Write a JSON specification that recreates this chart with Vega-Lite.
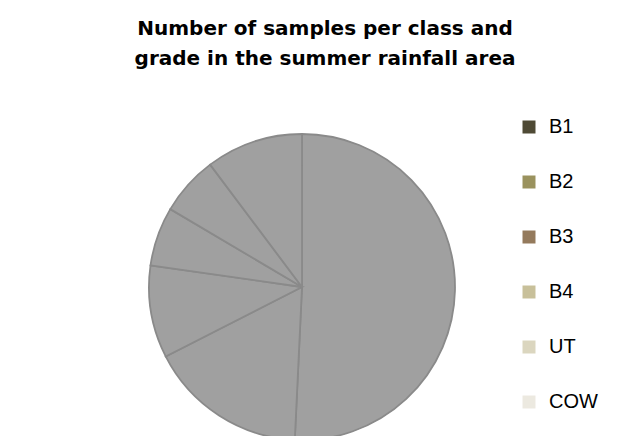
{
  "$schema": "https://vega.github.io/schema/vega-lite/v6.json",
  "width": 320,
  "height": 298,
  "autosize": {"type": "none"},
  "padding": {"left": 142, "top": 138, "right": 157, "bottom": 0},
  "background": "white",
  "title": {
    "text": ["Number of samples per class and", "grade in the summer rainfall area"],
    "font": "DejaVu Sans",
    "fontSize": 20,
    "fontWeight": "bold",
    "color": "#000000",
    "anchor": "middle",
    "dx": 23,
    "offset": 48,
    "lineHeight": 30
  },
  "config": {"view": {"stroke": null}},
  "data": {
    "values": [
      {"grade": "B1", "count": 203, "rank": 1},
      {"grade": "B2", "count": 67, "rank": 2},
      {"grade": "B3", "count": 39, "rank": 3},
      {"grade": "B4", "count": 25, "rank": 4},
      {"grade": "UT", "count": 25, "rank": 5},
      {"grade": "COW", "count": 41, "rank": 6}
    ]
  },
  "layer": [
    {
      "mark": {"type": "arc", "outerRadius": 153},
      "encoding": {
        "theta": {"field": "count", "type": "quantitative", "stack": true},
        "order": {"field": "rank", "type": "quantitative"},
        "color": {
          "field": "grade",
          "type": "nominal",
          "scale": {
            "domain": ["B1", "B2", "B3", "B4", "UT", "COW"],
            "range": ["#4f4a35", "#9a925e", "#947a5c", "#c8c09a", "#dbd6bf", "#ece9e0"]
          },
          "legend": {
            "orient": "none",
            "legendX": 377,
            "legendY": -21,
            "title": null,
            "padding": 0,
            "symbolType": "square",
            "symbolSize": 169,
            "symbolStrokeWidth": 0,
            "symbolOpacity": 1,
            "labelFont": "Liberation Sans",
            "labelFontSize": 20,
            "labelColor": "#000000",
            "labelOffset": 10,
            "rowPadding": 35
          }
        }
      }
    },
    {
      "mark": {"type": "arc", "outerRadius": 153, "fill": "#a0a0a0", "stroke": "#8a8a8a", "strokeWidth": 1.8},
      "encoding": {
        "theta": {"field": "count", "type": "quantitative", "stack": true},
        "order": {"field": "rank", "type": "quantitative"},
        "detail": {"field": "grade", "type": "nominal"}
      }
    }
  ]
}
